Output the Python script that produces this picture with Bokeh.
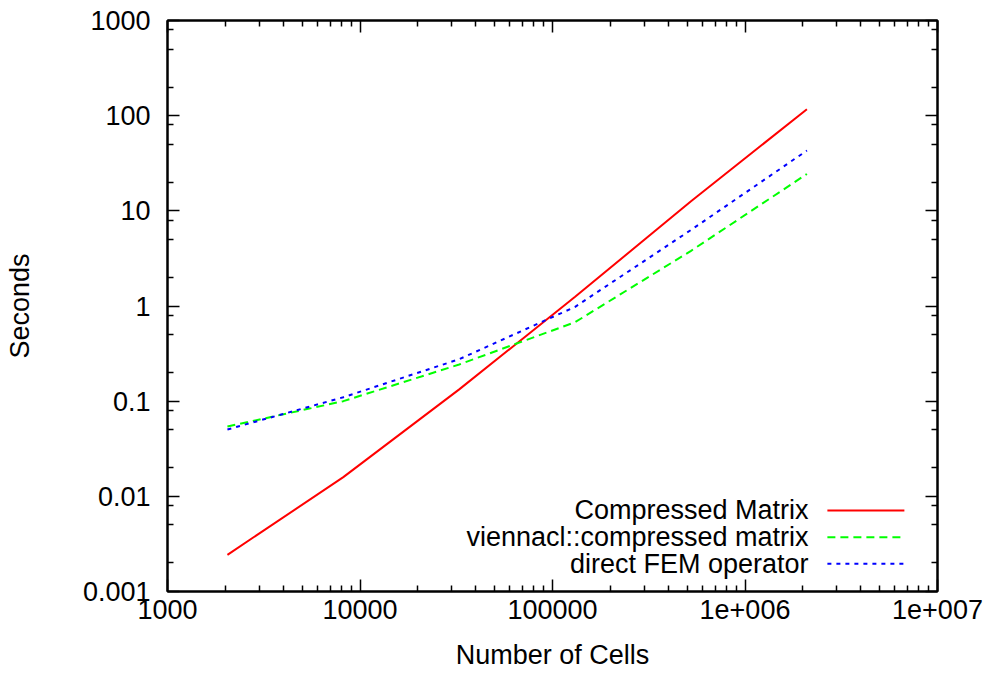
from bokeh.plotting import figure
from bokeh.models import FixedTicker, LogAxis, Range1d, Label, CustomJSTickFormatter
from bokeh.embed import file_html
from bokeh.resources import INLINE
import math

# ---------------- data ----------------
cells = [2048, 8192, 32768, 131072, 524288, 2097152]
compressed_matrix = [0.00243, 0.0159, 0.133, 1.25, 12.6, 117]
viennacl_matrix = [0.0542, 0.100, 0.243, 0.676, 3.8, 24.4]
direct_fem = [0.0504, 0.110, 0.276, 0.98, 6.3, 43]
series_names = ["Compressed Matrix", "viennacl::compressed matrix", "direct FEM operator"]

x_ticks = [1e3, 1e4, 1e5, 1e6, 1e7]
x_tick_labels = ["1000", "10000", "100000", "1e+006", "1e+007"]
y_ticks = [1e-3, 1e-2, 1e-1, 1e0, 1e1, 1e2, 1e3]
y_tick_labels = ["0.001", "0.01", "0.1", "1", "10", "100", "1000"]
x_minor = [m * 10.0 ** e for e in range(3, 7) for m in range(2, 10)]
y_minor = [m * 10.0 ** e for e in range(-3, 3) for m in (2, 5, 8)]

FONT = "Liberation Sans"
FS = "27px"

X0, X1 = 1e3, 1e7
Y0, Y1 = 1e-3, 1e3

p = figure(width=991, height=675, x_axis_type="log", y_axis_type="log",
           x_range=Range1d(X0, X1), y_range=Range1d(Y0, Y1),
           output_backend="svg", toolbar_location=None,
           min_border_left=167, min_border_right=54,
           min_border_top=20, min_border_bottom=84)
p.grid.visible = False
p.outline_line_color = "black"
p.outline_line_width = 2
p.background_fill_color = "white"
p.border_fill_color = "white"

fmt_code = """
for (let i = 0; i < tvals.length; i++) {
  if (Math.abs(Math.log10(tick) - Math.log10(tvals[i])) < 1e-6) return tlabels[i];
}
return '';
"""
xfmt = CustomJSTickFormatter(args=dict(tvals=x_ticks, tlabels=x_tick_labels), code=fmt_code)
yfmt = CustomJSTickFormatter(args=dict(tvals=y_ticks, tlabels=y_tick_labels), code=fmt_code)
empty_fmt = CustomJSTickFormatter(code="return '';")

def style_axis(ax):
    ax.axis_line_color = "black"
    ax.axis_line_width = 2
    ax.major_tick_in = 12
    ax.major_tick_out = 0
    ax.minor_tick_in = 6
    ax.minor_tick_out = 0
    ax.major_tick_line_color = "black"
    ax.minor_tick_line_color = "black"
    ax.major_tick_line_width = 1.5
    ax.minor_tick_line_width = 1.5
    ax.major_label_text_font = FONT
    ax.major_label_text_font_size = FS
    ax.major_label_text_color = "black"
    ax.axis_label_text_font = FONT
    ax.axis_label_text_font_size = FS
    ax.axis_label_text_font_style = "normal"
    ax.axis_label_text_color = "black"

xt = FixedTicker(ticks=x_ticks, minor_ticks=x_minor)
yt = FixedTicker(ticks=y_ticks, minor_ticks=y_minor)

xa = p.xaxis[0]
xa.ticker = xt
xa.formatter = xfmt
xa.axis_label = "Number of Cells"
style_axis(xa)
xa.major_label_standoff = 8
xa.axis_label_standoff = 18

ya = p.yaxis[0]
ya.ticker = yt
ya.formatter = yfmt
ya.axis_label = "Seconds"
style_axis(ya)
ya.major_label_standoff = 17
ya.axis_label_standoff = 45

# mirrored ticks (gnuplot style)
top = LogAxis(ticker=FixedTicker(ticks=x_ticks, minor_ticks=x_minor), formatter=empty_fmt)
right = LogAxis(ticker=FixedTicker(ticks=y_ticks, minor_ticks=y_minor), formatter=empty_fmt)
for ax in (top, right):
    style_axis(ax)
    ax.major_label_text_font_size = "0px"
    ax.major_label_standoff = 0
p.add_layout(top, "above")
p.add_layout(right, "right")

colors = ["#ff0000", "#00ff00", "#0000ff"]
dashes = ["solid", "8 5", "4 5"]
series = [compressed_matrix, viennacl_matrix, direct_fem]

for vals, c, d in zip(series, colors, dashes):
    p.line(cells, vals, line_color=c, line_width=2, line_dash=d)

# gnuplot-style key: right-aligned text followed by line sample
def fx(f):
    return 10 ** (math.log10(X0) + f * (math.log10(X1) - math.log10(X0)))

def fy(f):
    return 10 ** (math.log10(Y0) + f * (math.log10(Y1) - math.log10(Y0)))

rows = [0.1419, 0.0951, 0.0485]
for name, c, d, r in zip(series_names, colors, dashes, rows):
    p.add_layout(Label(x=fx(0.8325), y=fy(r), text=name, text_align="right",
                       text_baseline="middle", text_font=FONT, text_font_size=FS,
                       text_color="black"))
    p.line([fx(0.857), fx(0.957)], [fy(r), fy(r)], line_color=c, line_width=2, line_dash=d)

open("out.html", "w").write(file_html(p, INLINE))
